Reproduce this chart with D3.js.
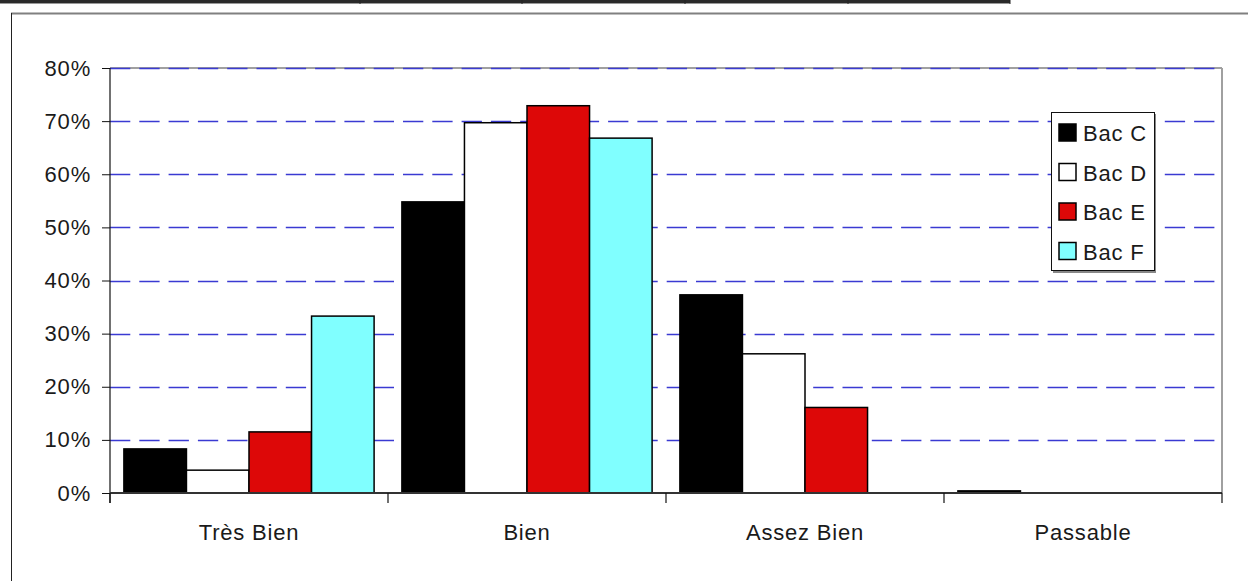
<!DOCTYPE html>
<html>
<head>
<meta charset="utf-8">
<script src="https://cdn.jsdelivr.net/npm/d3@7"></script>
<style>
  html, body { margin: 0; padding: 0; background: #fff; }
  svg { display: block; }
  text { font-family: "Liberation Sans", Arial, sans-serif; fill: #1a1a1a; letter-spacing: 0.8px; }
</style>
</head>
<body>
<svg id="chart" width="1248" height="581"></svg>
<script>
// Mentions par série de baccalauréat (part des bacheliers)
const categories = ["Très Bien", "Bien", "Assez Bien", "Passable"];
const series = ["Bac C", "Bac D", "Bac E", "Bac F"];
const bacC = [8.3, 54.8, 37.3, 0.4];
const bacD = [4.3, 69.7, 26.2, 0];
const bacE = [11.5, 72.9, 16.1, 0];
const bacF = [33.3, 66.8, 0, 0];
const yTicks = [0, 10, 20, 30, 40, 50, 60, 70, 80];
const seriesColors = ["#000000", "#ffffff", "#dd0808", "#80ffff"];

const values = [bacC, bacD, bacE, bacF];
const rows = [];
categories.forEach((c, ci) => series.forEach((s, si) => rows.push({ c, s, si, v: values[si][ci] })));

const svg = d3.select("#chart");
const plot = { left: 110, right: 1222, top: 68, bottom: 493 };
const fontSize = 22;

// Remnant of the table border above the chart
const tbl = svg.append("g");
tbl.append("line").attr("x1", 0).attr("x2", 1010).attr("y1", 1.5).attr("y2", 1.5)
  .attr("stroke", "#2a2a2a").attr("stroke-width", 3);
tbl.append("line").attr("x1", 0).attr("x2", 1010).attr("y1", 3.5).attr("y2", 3.5)
  .attr("stroke", "#999").attr("stroke-width", 1);
[360, 522, 685, 848, 1010].forEach(x => {
  tbl.append("line").attr("x1", x).attr("x2", x).attr("y1", 0).attr("y2", 4)
    .attr("stroke", "#222").attr("stroke-width", 1);
});

// Chart frame (left and top edges)
svg.append("line").attr("x1", 11).attr("x2", 1248).attr("y1", 13.5).attr("y2", 13.5)
  .attr("stroke", "#808080").attr("stroke-width", 2);
svg.append("line").attr("x1", 11.5).attr("x2", 11.5).attr("y1", 13).attr("y2", 581)
  .attr("stroke", "#222").attr("stroke-width", 1);

const x0 = d3.scaleBand().domain(categories).range([plot.left, plot.right]).padding(0);
const bw = x0.bandwidth();
const x1 = d3.scaleBand().domain(series).range([bw * 0.05, bw * 0.95]).padding(0);
const y = d3.scaleLinear().domain([0, 80]).range([plot.bottom, plot.top]);

// Plot area border (top and right in grey)
svg.append("line").attr("x1", plot.left).attr("x2", plot.right).attr("y1", plot.top).attr("y2", plot.top)
  .attr("stroke", "#a0a0a0").attr("stroke-width", 2);
svg.append("line").attr("x1", plot.right).attr("x2", plot.right).attr("y1", plot.top).attr("y2", plot.bottom)
  .attr("stroke", "#a0a0a0").attr("stroke-width", 2);

// Dashed gridlines
svg.append("g")
  .selectAll("line").data(yTicks.filter(t => t > 0)).join("line")
  .attr("x1", plot.left).attr("x2", plot.right - 2)
  .attr("y1", d => Math.round(y(d)) + 0.5).attr("y2", d => Math.round(y(d)) + 0.5)
  .attr("stroke", "#3a3ad2").attr("stroke-width", 1.3)
  .attr("stroke-dasharray", "20.3,9");

// Bars
svg.append("g").selectAll("rect").data(rows).join("rect")
  .attr("x", d => x0(d.c) + x1(d.s))
  .attr("y", d => y(d.v))
  .attr("width", x1.bandwidth())
  .attr("height", d => y(0) - y(d.v))
  .attr("fill", d => seriesColors[d.si])
  .attr("stroke", d => d.v > 0 ? "#000" : "none")
  .attr("stroke-width", 1.5);

// Y axis
const yAxis = d3.axisLeft(y).tickValues(yTicks).tickFormat(d => d + "%").tickSize(8).tickPadding(11);
const gy = svg.append("g").attr("transform", `translate(${plot.left},0)`).call(yAxis);
gy.select(".domain").remove();
gy.selectAll(".tick line").attr("stroke", "#111");
gy.selectAll(".tick text").attr("font-size", fontSize)
  .attr("font-family", "Liberation Sans, Arial, sans-serif").attr("fill", "#1a1a1a");
svg.append("line").attr("x1", plot.left).attr("x2", plot.left).attr("y1", plot.top).attr("y2", plot.bottom + 10)
  .attr("stroke", "#111").attr("stroke-width", 1.2);

// X axis
svg.append("line").attr("x1", plot.left).attr("x2", plot.right).attr("y1", plot.bottom).attr("y2", plot.bottom)
  .attr("stroke", "#333").attr("stroke-width", 2);
const bounds = categories.map(c => x0(c)).concat([plot.right]);
svg.append("g").selectAll("line").data(bounds).join("line")
  .attr("x1", d => d).attr("x2", d => d).attr("y1", plot.bottom).attr("y2", plot.bottom + 10)
  .attr("stroke", "#111").attr("stroke-width", 1.2);
svg.append("g").selectAll("text").data(categories).join("text")
  .attr("x", d => x0(d) + bw / 2).attr("y", 540)
  .attr("text-anchor", "middle").attr("font-size", fontSize).text(d => d);

// Legend
const lg = svg.append("g").attr("transform", "translate(1051,112)");
lg.append("rect").attr("x", 2).attr("y", 2).attr("width", 103).attr("height", 159).attr("fill", "#888");
lg.append("rect").attr("x", 0.5).attr("y", 0.5).attr("width", 103).attr("height", 158)
  .attr("fill", "#fff").attr("stroke", "#111").attr("stroke-width", 1);
const items = lg.selectAll("g.item").data(series).join("g").attr("class", "item")
  .attr("transform", (d, i) => `translate(0,${21 + i * 39.5})`);
items.append("rect").attr("x", 8).attr("y", -9).attr("width", 17).attr("height", 17)
  .attr("fill", (d, i) => seriesColors[i]).attr("stroke", "#000").attr("stroke-width", 1.5);
items.append("text").attr("x", 32).attr("y", 8).attr("font-size", fontSize).text(d => d);
</script>
</body>
</html>
